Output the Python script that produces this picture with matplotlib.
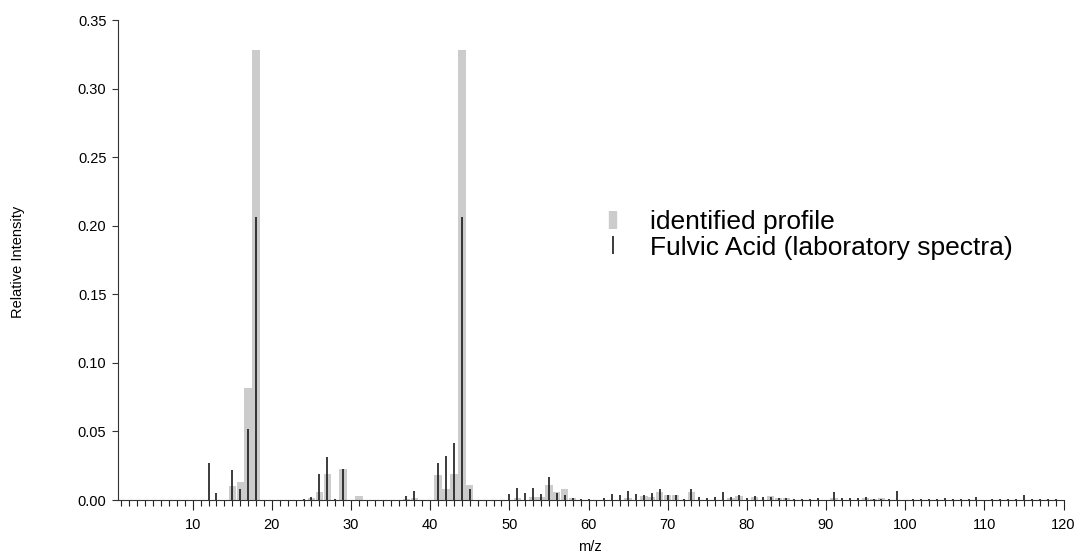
import matplotlib
matplotlib.use("Agg")
import matplotlib.pyplot as plt
from matplotlib.lines import Line2D
from matplotlib.ticker import MultipleLocator

plt.rcParams['font.family'] = ['Liberation Sans', 'DejaVu Sans']

# identified profile (grey bars)
profile_mz = [15, 16, 17, 18, 25, 26, 27, 29, 31, 37, 38, 41, 42, 43, 44, 45,
              51, 53, 54, 55, 56, 57, 58, 65, 67, 68, 69, 70, 71, 73, 78, 79,
              81, 83, 84, 85, 91, 95, 96, 97]
profile_int = [0.0102, 0.0129, 0.082, 0.328, 0.0012, 0.006, 0.0188, 0.0224, 0.0032,
               0.0008, 0.0015, 0.0185, 0.0078, 0.019, 0.328, 0.0107,
               0.0012, 0.0025, 0.0025, 0.0107, 0.0058, 0.008, 0.0012, 0.0017,
               0.003, 0.0025, 0.006, 0.0034, 0.0034, 0.0058, 0.0017, 0.003,
               0.002, 0.003, 0.0015, 0.0015, 0.0015, 0.0015, 0.001, 0.0015]

# Fulvic Acid laboratory spectra (black sticks)
fulvic_mz = [12, 13, 15, 16, 17, 18, 24, 25, 26, 27, 28, 29, 37, 38, 41, 42, 43, 44, 45,
             50, 51, 52, 53, 54, 55, 56, 57, 58, 59, 60, 62, 63, 64, 65, 66, 67, 68,
             69, 70, 71, 72, 73, 74, 75, 76, 77, 78, 79, 80, 81, 82, 83, 84, 85, 86,
             87, 88, 89, 91, 92, 93, 94, 95, 96, 97, 98, 99, 101, 102, 103, 104, 105,
             106, 107, 108, 109, 111, 112, 113, 114, 115, 116, 117, 118, 119]
fulvic_int = [0.0272, 0.0053, 0.022, 0.0078, 0.052, 0.206, 0.0008, 0.002, 0.0188, 0.0316,
              0.0008, 0.0224, 0.003, 0.0068, 0.027, 0.0319, 0.0418, 0.206, 0.008,
              0.0045, 0.0085, 0.005, 0.0085, 0.0045, 0.0165, 0.0053, 0.0034, 0.0017,
              0.001, 0.001, 0.0015, 0.0045, 0.004, 0.0065, 0.0045, 0.004, 0.005,
              0.008, 0.0033, 0.0034, 0.001, 0.0078, 0.002, 0.0015, 0.002, 0.006,
              0.0024, 0.0034, 0.0015, 0.003, 0.002, 0.0025, 0.0015, 0.0015, 0.0008,
              0.0006, 0.0008, 0.0012, 0.0055, 0.0015, 0.0015, 0.0015, 0.0024, 0.0008,
              0.0008, 0.0008, 0.0062, 0.0006, 0.0006, 0.0008, 0.001, 0.0015,
              0.001, 0.001, 0.001, 0.002, 0.001, 0.0008, 0.001, 0.001, 0.004,
              0.001, 0.001, 0.001, 0.001]

x_ticks = [10, 20, 30, 40, 50, 60, 70, 80, 90, 100, 110, 120]
y_ticks = [0.00, 0.05, 0.10, 0.15, 0.20, 0.25, 0.30, 0.35]

W, H = 1080, 556
fig = plt.figure(figsize=(W / 100, H / 100), dpi=100)
ax = fig.add_axes([117.5 / W, 1 - 500 / H, 946 / W, 480 / H])

ax.bar(profile_mz, profile_int, width=0.92, color='#cccccc', zorder=2, linewidth=0)
ax.vlines(fulvic_mz, 0, fulvic_int, color='#1a1a1a', linewidth=1.2, zorder=3)

ax.set_xlim(0.5, 120)
ax.set_ylim(0, 0.35)
ax.set_xticks(x_ticks)
ax.xaxis.set_minor_locator(MultipleLocator(1))
ax.set_yticks(y_ticks)
ax.set_yticklabels([f"{v:.2f}" for v in y_ticks])

for s in ['top', 'right']:
    ax.spines[s].set_visible(False)
for s in ['left', 'bottom']:
    ax.spines[s].set_linewidth(0.8)
    ax.spines[s].set_color('#333333')

ax.tick_params(axis='x', which='major', direction='out', length=7, width=0.8,
               labelsize=10.5, pad=6, color='#222222')
ax.tick_params(axis='x', which='minor', direction='out', length=4, width=0.8,
               color='#222222')
ax.tick_params(axis='y', which='major', direction='out', length=4, width=0.8,
               labelsize=10.5, pad=4, color='#333333')

fig.text(18 / W, 1 - 262 / H, 'Relative Intensity', rotation=90,
         ha='center', va='center', fontsize=10.5)
fig.text(590 / W, 1 - 547 / H, 'm/z', ha='center', va='center', fontsize=10.5)

handles = [
    Line2D([], [], marker='|', linestyle='None', color='#cccccc',
           markersize=13, markeredgewidth=6),
    Line2D([], [], marker='|', linestyle='None', color='#1a1a1a',
           markersize=13, markeredgewidth=1.2),
]
leg = ax.legend(handles, ['identified profile', 'Fulvic Acid (laboratory spectra)'],
                loc='upper left', bbox_to_anchor=(600 / W, 1 - 210 / H),
                bbox_transform=fig.transFigure, frameon=False, fontsize=19,
                handlelength=1.0, handletextpad=0.9, labelspacing=0.06,
                borderaxespad=0, borderpad=0)

fig.savefig('out.png', dpi=100)
